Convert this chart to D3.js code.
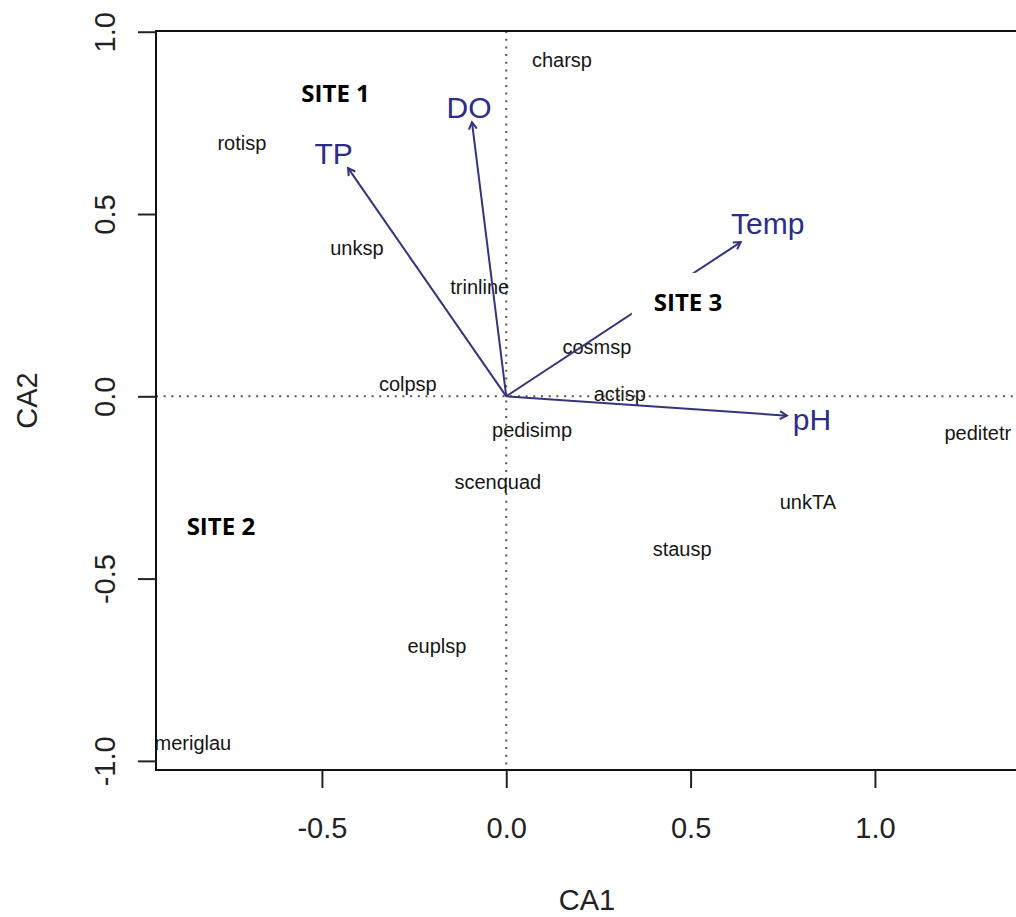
<!DOCTYPE html>
<html>
<head>
<meta charset="utf-8">
<script src="https://cdn.jsdelivr.net/npm/d3@7"></script>
<style>
  html, body { margin: 0; padding: 0; background: #fff; overflow: hidden; }
  svg { display: block; }
</style>
</head>
<body>
<svg id="chart" width="1016" height="917"></svg>
<script>
// ---- data ----
const species    = ["charsp","rotisp","unksp","trinline","cosmsp","colpsp","actisp","pedisimp","scenquad","peditetr","unkTA","stausp","euplsp","meriglau"];
const speciesCA1 = [0.151, -0.717, -0.405, -0.072, 0.246, -0.267, 0.308, 0.070, -0.023, 1.279, 0.818, 0.477, -0.188, -0.850];
const speciesCA2 = [0.922, 0.695, 0.407, 0.300, 0.136, 0.034, 0.007, -0.092, -0.234, -0.100, -0.289, -0.418, -0.686, -0.950];

const envVars     = ["TP", "DO", "Temp", "pH"];
const envCA1      = [-0.429, -0.093, 0.636, 0.761];
const envCA2      = [0.626, 0.752, 0.423, -0.053];
const envLabelCA1 = [-0.468, -0.101, 0.709, 0.829];
const envLabelCA2 = [0.667, 0.793, 0.473, -0.064];

const siteLabels = ["SITE 1", "SITE 2", "SITE 3"];
const siteCA1    = [-0.463, -0.774, 0.493];
const siteCA2    = [0.830, -0.356, 0.258];

const xTicks = [-0.5, 0.0, 0.5, 1.0];
const yTicks = [-1.0, -0.5, 0.0, 0.5, 1.0];
const xTitle = "CA1";
const yTitle = "CA2";

// ---- layout ----
const svg = d3.select("#chart");
const pLeft = 156, pRight = 1018, pTop = 31, pBottom = 770;
const x = d3.scaleLinear().domain([-0.950, 1.388]).range([pLeft, pRight]);
const y = d3.scaleLinear().domain([-1.025, 1.002]).range([pBottom, pTop]);

const axisFont = "'Liberation Sans', Arial, sans-serif";
const envColor = "#2c2c8a";
const arrowColor = "#34347e";

// dotted zero lines
svg.append("line")
  .attr("x1", pLeft).attr("x2", pRight).attr("y1", y(0)).attr("y2", y(0))
  .attr("stroke", "#555").attr("stroke-width", 2).attr("stroke-dasharray", "2,5.7");
svg.append("line")
  .attr("x1", x(0)).attr("x2", x(0)).attr("y1", pTop).attr("y2", pBottom)
  .attr("stroke", "#555").attr("stroke-width", 2).attr("stroke-dasharray", "2,5.7");

// species labels
svg.append("g").selectAll("text")
  .data(species)
  .join("text")
  .attr("x", (d, i) => x(speciesCA1[i]))
  .attr("y", (d, i) => y(speciesCA2[i]))
  .attr("dy", "0.35em")
  .attr("text-anchor", "middle")
  .attr("font-family", axisFont)
  .attr("font-size", 20)
  .attr("fill", "#161616")
  .text(d => d);

// environmental arrows
const ag = svg.append("g");
envVars.forEach((v, i) => {
  const x0 = x(0), y0 = y(0), x1 = x(envCA1[i]), y1 = y(envCA2[i]);
  ag.append("line")
    .attr("x1", x0).attr("y1", y0).attr("x2", x1).attr("y2", y1)
    .attr("stroke", arrowColor).attr("stroke-width", 2);
  const ang = Math.atan2(y1 - y0, x1 - x0);
  const L = 8, a = Math.PI / 6;
  const p = [
    [x1 - L * Math.cos(ang - a), y1 - L * Math.sin(ang - a)],
    [x1, y1],
    [x1 - L * Math.cos(ang + a), y1 - L * Math.sin(ang + a)]
  ];
  ag.append("path")
    .attr("d", d3.line()(p))
    .attr("fill", "none").attr("stroke", arrowColor).attr("stroke-width", 2);
  ag.append("text")
    .attr("x", x(envLabelCA1[i]))
    .attr("y", y(envLabelCA2[i]))
    .attr("dy", "0.35em")
    .attr("text-anchor", "middle")
    .attr("font-family", axisFont)
    .attr("font-size", 30)
    .attr("fill", envColor)
    .text(v);
});

// site annotations with white boxes
const sg = svg.append("g");
siteLabels.forEach((s, i) => {
  const g = sg.append("g");
  const rect = g.append("rect").attr("fill", "#fff");
  const t = g.append("text")
    .attr("x", x(siteCA1[i]))
    .attr("y", y(siteCA2[i]))
    .attr("dy", "0.36em")
    .attr("text-anchor", "middle")
    .attr("font-family", "'Open Sans', 'Noto Sans', sans-serif")
    .attr("font-weight", "bold")
    .attr("font-size", 24)
    .attr("fill", "#000")
    .text(s);
  const bb = t.node().getBBox();
  rect.attr("x", bb.x - 22).attr("y", bb.y - 12)
      .attr("width", bb.width + 36).attr("height", bb.height + 14);
});

// box
svg.append("rect")
  .attr("x", pLeft).attr("y", pTop)
  .attr("width", pRight - pLeft).attr("height", pBottom - pTop)
  .attr("fill", "none").attr("stroke", "#111").attr("stroke-width", 2);

// axes
const fmt = d => d.toFixed(1);
const yAxis = svg.append("g")
  .attr("transform", `translate(${pLeft},0)`)
  .call(d3.axisLeft(y).tickValues(yTicks).tickFormat(fmt).tickSize(18));
yAxis.select(".domain").remove();
yAxis.selectAll(".tick line").attr("stroke", "#222").attr("stroke-width", 2);
yAxis.selectAll(".tick text")
  .attr("transform", "rotate(-90)")
  .attr("x", 0).attr("y", -41).attr("dy", 0)
  .attr("text-anchor", "middle")
  .attr("font-family", axisFont).attr("font-size", 29).attr("fill", "#222");

const xAxis = svg.append("g")
  .attr("transform", `translate(0,${pBottom})`)
  .call(d3.axisBottom(x).tickValues(xTicks).tickFormat(fmt).tickSize(18));
xAxis.select(".domain").remove();
xAxis.selectAll(".tick line").attr("stroke", "#222").attr("stroke-width", 2);
xAxis.selectAll(".tick text")
  .attr("y", 68).attr("dy", 0)
  .attr("font-family", axisFont).attr("font-size", 29).attr("fill", "#222");

// titles
svg.append("text")
  .attr("x", (pLeft + pRight) / 2).attr("y", 910)
  .attr("text-anchor", "middle")
  .attr("font-family", axisFont).attr("font-size", 29).attr("fill", "#222")
  .text(xTitle);
svg.append("text")
  .attr("transform", `translate(37,${(pTop + pBottom) / 2}) rotate(-90)`)
  .attr("text-anchor", "middle")
  .attr("font-family", axisFont).attr("font-size", 29).attr("fill", "#222")
  .text(yTitle);
</script>
</body>
</html>
